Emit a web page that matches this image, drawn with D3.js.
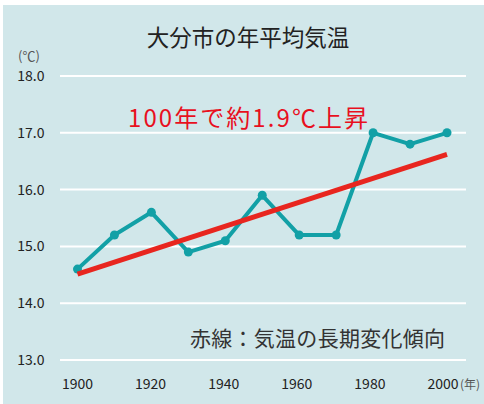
<!DOCTYPE html>
<html><head><meta charset="utf-8">
<script src="https://cdn.jsdelivr.net/npm/d3@7"></script>
<style>html,body{margin:0;padding:0;background:#fff;}svg{display:block;font-family:"Noto Sans CJK JP","Noto Sans",sans-serif;}</style>
</head><body>
<script>
const years = [1900,1910,1920,1930,1940,1950,1960,1970,1980,1990,2000];
const temps = [14.6,15.2,15.6,14.9,15.1,15.9,15.2,15.2,17.0,16.8,17.0];
const trendYears = [1900,2000];
const trendTemps = [14.51,16.62];
const yTicks = [13,14,15,16,17,18];
const xTicks = [1900,1920,1940,1960,1980,2000];
const title = "大分市の年平均気温";
const note = "100年で約1.9℃上昇";
const legendNote = "赤線：気温の長期変化傾向";

const W=484,H=404;
const svg=d3.select("body").append("svg").attr("width",W).attr("height",H);
svg.append("rect").attr("x",3).attr("y",5).attr("width",W-3).attr("height",H-5).attr("fill","#d1e7ea");

const x=d3.scaleLinear().domain([1900,2000]).range([77.5,447]);
const xl=d3.scaleLinear().domain([1900,2000]).range([77.5,443]);
const y=d3.scaleLinear().domain([13,18]).range([360,76]);

// grid
svg.append("g").selectAll("line").data(yTicks).join("line")
 .attr("x1",60).attr("x2",466).attr("y1",d=>y(d)).attr("y2",d=>y(d))
 .attr("stroke","#fff").attr("stroke-width",2);
svg.append("g").selectAll("text").data(yTicks).join("text")
 .attr("x",44.5).attr("y",d=>y(d)+5).attr("text-anchor","end")
 .attr("font-size",14).attr("fill","#222").text(d=>d.toFixed(1));
svg.append("text").attr("x",29).attr("y",61).attr("text-anchor","middle")
 .attr("font-size",13).attr("fill","#555").text("(℃)");

svg.append("g").selectAll("text").data(xTicks).join("text")
 .attr("x",d=>xl(d)).attr("y",389).attr("text-anchor","middle")
 .attr("font-size",14).attr("fill","#222").text(d=>d);
svg.append("text").attr("x",460).attr("y",389).attr("font-size",12).attr("fill","#555").text("(年)");

// title
svg.append("text").attr("x",248).attr("y",46).attr("text-anchor","middle")
 .attr("font-size",22.5).attr("fill","#222").text(title);

// data line
const line=d3.line().x((d,i)=>x(years[i])).y(d=>y(d));
svg.append("path").datum(temps).attr("d",line).attr("fill","none")
 .attr("stroke","#12a0a6").attr("stroke-width",4).attr("stroke-linejoin","round");
svg.append("g").selectAll("circle").data(temps).join("circle")
 .attr("cx",(d,i)=>x(years[i])).attr("cy",d=>y(d)).attr("r",4.5).attr("fill","#12a0a6");

// trend
const tline=d3.line().x((d,i)=>x(trendYears[i])).y(d=>y(d));
svg.append("path").datum(trendTemps).attr("d",tline).attr("fill","none")
 .attr("stroke","#e8261f").attr("stroke-width",5);

svg.append("text").attr("x",128).attr("y",127).attr("font-size",24).attr("fill","#e8101e")
 .attr("textLength",240).attr("lengthAdjust","spacing").text(note);
svg.append("text").attr("x",190).attr("y",346).attr("font-size",21).attr("fill","#333")
 .attr("textLength",255).attr("lengthAdjust","spacing").text(legendNote);
</script>
</body></html>
